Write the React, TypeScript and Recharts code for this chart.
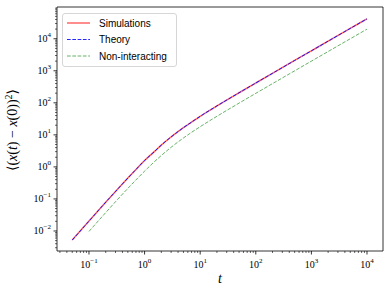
import React from 'react';
import { LineChart, Line, XAxis, YAxis, ReferenceArea, Legend } from 'recharts';

const times = [0.05, 0.1, 0.2, 0.3, 0.5, 0.7, 1, 1.5, 2, 3, 5, 7, 10, 20, 50, 100, 200, 500, 1000, 2000, 5000, 10000];
const simulations = [0.0052, 0.0203, 0.079, 0.171, 0.447, 0.83, 1.58, 3.0, 4.8, 8.6, 16.8, 25, 38, 80, 206, 416, 836, 2100, 4200, 8400, 21000, 42000];
const theory = [0.0052, 0.0203, 0.079, 0.171, 0.447, 0.83, 1.58, 3.0, 4.8, 8.6, 16.8, 25, 38, 80, 206, 416, 836, 2100, 4200, 8400, 21000, 42000];
const nonInteracting = [null, 0.0097, 0.0375, 0.082, 0.213, 0.393, 0.736, 1.45, 2.27, 4.1, 8.0, 12, 18, 38, 98, 198, 398, 998, 2000, 4000, 10000, 20000];

const xMajorTicks = [0.1, 1, 10, 100, 1000, 10000];
const yMajorTicks = [0.01, 0.1, 1, 10, 100, 1000, 10000];
const xDomain: [number, number] = [0.0266, 19400];
const yDomain: [number, number] = [0.00237, 98000];

const seriesNames = ['Simulations', 'Theory', 'Non-interacting'];

const data = times.map((t, i) => ({
  t,
  sim: simulations[i],
  theory: theory[i],
  nonint: nonInteracting[i],
}));

function withMinor(domain: [number, number]) {
  const out: number[] = [];
  const lo = Math.floor(Math.log10(domain[0]));
  const hi = Math.ceil(Math.log10(domain[1]));
  for (let e = lo; e <= hi; e++) {
    for (let m = 1; m <= 9; m++) {
      const v = parseFloat((m * Math.pow(10, e)).toPrecision(6));
      if (v >= domain[0] && v <= domain[1]) out.push(v);
    }
  }
  return out;
}

const xTicks = withMinor(xDomain);
const yTicks = withMinor(yDomain);

function isMajor(v: number) {
  const l = Math.log10(v);
  return Math.abs(l - Math.round(l)) < 1e-9;
}

function expText(v: number) {
  const e = Math.round(Math.log10(v));
  return e < 0 ? '\u2212' + Math.abs(e) : String(e);
}

const serif = '"Liberation Serif", "DejaVu Serif", serif';
const sans = '"Liberation Sans", "DejaVu Sans", sans-serif';

const XTick = (props: any) => {
  const { x, y, payload } = props;
  const v = payload.value;
  const major = isMajor(v);
  return (
    <g>
      <line x1={x} y1={y} x2={x} y2={y + (major ? 3.5 : 2)} stroke="#000" strokeWidth={major ? 0.8 : 0.6} />
      {major && (
        <text x={x} y={y + 17} textAnchor="middle" fontFamily={serif} fontSize={10} fill="#000">
          10<tspan dy={-5} fontSize={7}>{expText(v)}</tspan>
        </text>
      )}
    </g>
  );
};

const YTick = (props: any) => {
  const { x, y, payload } = props;
  const v = payload.value;
  const major = isMajor(v);
  return (
    <g>
      <line x1={x - (major ? 3.5 : 2)} y1={y} x2={x} y2={y} stroke="#000" strokeWidth={major ? 0.8 : 0.6} />
      {major && (
        <text x={x - 6} y={y + 3.5} textAnchor="end" fontFamily={serif} fontSize={10} fill="#000">
          10<tspan dy={-5} fontSize={7}>{expText(v)}</tspan>
        </text>
      )}
    </g>
  );
};

const LegendBox = () => {
  const rows = [
    { name: seriesNames[0], color: '#ff0000', opacity: 0.6, dash: undefined, w: 1.5 },
    { name: seriesNames[1], color: '#0000ff', opacity: 0.85, dash: '3.7 1.6', w: 1 },
    { name: seriesNames[2], color: '#008000', opacity: 0.6, dash: '3.7 1.6', w: 1 },
  ];
  return (
    <svg width={115} height={54} style={{ display: 'block' }}>
      <rect x={0.5} y={0.5} width={114} height={53} rx={2.5} fill="#fff" fillOpacity={0.8} stroke="#cccccc" strokeWidth={0.8} />
      {rows.map((r, i) => (
        <g key={r.name}>
          <line x1={5} x2={28} y1={10 + i * 16.5} y2={10 + i * 16.5} stroke={r.color} strokeOpacity={r.opacity} strokeWidth={r.w} strokeDasharray={r.dash} />
          <text x={37} y={13.5 + i * 16.5} fontFamily={sans} fontSize={10} fill="#000">{r.name}</text>
        </g>
      ))}
    </svg>
  );
};

const YLabel = () => (
  <text x={17} y={130} transform="rotate(-90 17 130)" textAnchor="middle" fontFamily={serif} fontSize={14} fill="#000">
    {'\u27E8('}<tspan fontStyle="italic">x</tspan>{'('}<tspan fontStyle="italic">t</tspan>{') \u2212 '}<tspan fontStyle="italic">x</tspan>{'(0))'}<tspan dy={-5} fontSize={10}>2</tspan><tspan dy={5}>{'\u27E9'}</tspan>
  </text>
);

const XLabel = () => (
  <text x={220} y={283} textAnchor="middle" fontFamily={serif} fontSize={14} fontStyle="italic" fill="#000">t</text>
);

export default function App() {
  return (
    <div style={{ position: 'absolute', left: 0, top: 0 }}>
      <LineChart width={391} height={294} data={data} margin={{ top: 7, right: 8, bottom: 0, left: 12 }}>
        <XAxis
          dataKey="t"
          type="number"
          scale="log"
          domain={xDomain}
          allowDataOverflow
          ticks={xTicks}
          interval={0}
          tick={<XTick />}
          tickLine={false}
          tickSize={0}
          tickMargin={0}
          axisLine={false}
          height={43}
          label={{ content: () => <XLabel /> }}
        />
        <YAxis
          type="number"
          scale="log"
          domain={yDomain}
          allowDataOverflow
          ticks={yTicks}
          interval={0}
          tick={<YTick />}
          tickLine={false}
          tickSize={0}
          tickMargin={0}
          axisLine={false}
          width={45}
          label={{ content: () => <YLabel /> }}
        />
        <ReferenceArea x1={xDomain[0]} x2={xDomain[1]} y1={yDomain[0]} y2={yDomain[1]} fill="none" stroke="#000" strokeWidth={0.8} ifOverflow="extendDomain" />
        <Line dataKey="sim" name={seriesNames[0]} type="monotone" stroke="#ff0000" strokeOpacity={0.6} strokeWidth={1.5} dot={false} isAnimationActive={false} />
        <Line dataKey="theory" name={seriesNames[1]} type="monotone" stroke="#0000ff" strokeOpacity={0.85} strokeWidth={1} strokeDasharray="3.7 1.6" dot={false} isAnimationActive={false} />
        <Line dataKey="nonint" name={seriesNames[2]} type="monotone" stroke="#008000" strokeOpacity={0.6} strokeWidth={1} strokeDasharray="3.7 1.6" dot={false} isAnimationActive={false} />
        <Legend layout="horizontal" verticalAlign="middle" align="center" wrapperStyle={{ left: 62, top: 13, width: 115, height: 54 }} content={() => <LegendBox />} />
      </LineChart>
    </div>
  );
}
